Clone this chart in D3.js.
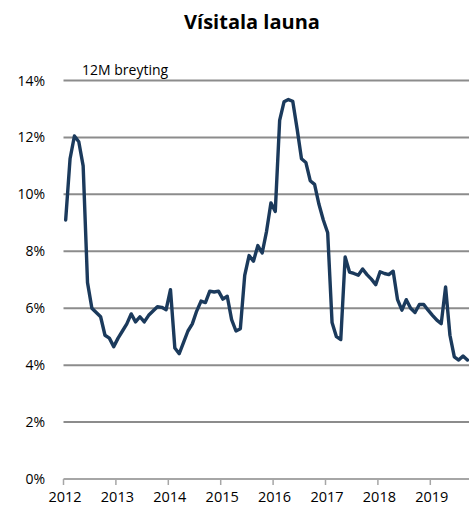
<!DOCTYPE html>
<html>
<head>
<meta charset="utf-8">
<script src="https://cdn.jsdelivr.net/npm/d3@7/dist/d3.min.js"></script>
<style>
html,body{margin:0;padding:0;background:#fff;}
svg{display:block;}
text{font-family:"Open Sans","Noto Sans",sans-serif;fill:#000;}
</style>
</head>
<body>
<svg id="chart" width="469" height="513"></svg>
<script>
const title = "Vísitala launa";
const seriesLabel = "12M breyting";
const years = ["2012","2013","2014","2015","2016","2017","2018","2019"];
const yTicks = [0,2,4,6,8,10,12,14];
// monthly 12-month change (%), Jan 2012 .. Sep 2019
const v2012 = [9.1,11.25,12.05,11.85,11.0,6.9,6.0,5.85,5.7,5.05,4.95,4.65];
const v2013 = [4.95,5.2,5.45,5.8,5.52,5.7,5.52,5.75,5.9,6.05,6.03,5.95];
const v2014 = [6.65,4.6,4.4,4.8,5.2,5.45,5.9,6.25,6.2,6.6,6.57,6.6];
const v2015 = [6.32,6.42,5.6,5.2,5.28,7.15,7.85,7.65,8.2,7.94,8.7,9.7];
const v2016 = [9.4,12.6,13.25,13.33,13.27,12.3,11.25,11.12,10.48,10.35,9.65,9.1];
const v2017 = [8.65,5.5,5.0,4.9,7.8,7.27,7.22,7.16,7.38,7.18,7.02,6.83];
const v2018 = [7.28,7.22,7.18,7.3,6.3,5.93,6.3,6.0,5.85,6.13,6.13,5.93];
const v2019 = [5.75,5.58,5.46,6.75,5.05,4.29,4.18,4.32,4.18];
const values = [].concat(v2012,v2013,v2014,v2015,v2016,v2017,v2018,v2019);

(function(){
const svg = d3.select("#chart");
const mL = 63.5, mR = 469, mT = 80.5, mB = 479;
const nMonths = values.length;

const x = d3.scaleLinear().domain([0, nMonths]).range([mL, mL + nMonths*(52.4/12)]);
const y = d3.scaleLinear().domain([0, 14]).range([mB, mT]);

// gridlines
svg.append("g").selectAll("line").data(yTicks.filter(d=>d>0)).join("line")
  .attr("x1", mL).attr("x2", mR)
  .attr("y1", d=>y(d)).attr("y2", d=>y(d))
  .attr("stroke", "#8c8c8c").attr("stroke-width", 2);

// y labels
svg.append("g").selectAll("text").data(yTicks).join("text")
  .attr("x", 45).attr("y", d=>y(d)).attr("dy","0.36em")
  .attr("text-anchor","end").style("font-size","14px")
  .text(d=>d+"%");

// x axis line
svg.append("line").attr("x1", mL).attr("x2", mR)
  .attr("y1", y(0)).attr("y2", y(0))
  .attr("stroke", "#a6a6a6").attr("stroke-width", 2);

// year ticks
const yearIdx = years.map((d,i)=>i*12);
svg.append("g").selectAll("line").data(yearIdx).join("line")
  .attr("x1", d=>x(d)).attr("x2", d=>x(d))
  .attr("y1", y(0)).attr("y2", y(0)+6)
  .attr("stroke", "#a6a6a6").attr("stroke-width", 1.5);
svg.append("g").selectAll("text").data(years).join("text")
  .attr("x", (d,i)=>x(i*12)+1.5).attr("y", 502)
  .attr("text-anchor","middle").style("font-size","14.5px")
  .text(d=>d);

// line
const line = d3.line().x((d,i)=>x(i+0.5)).y(d=>y(d)).curve(d3.curveLinear);
svg.append("path").datum(values)
  .attr("d", line).attr("fill","none")
  .attr("stroke","#1b3a5c").attr("stroke-width",3.4)
  .attr("stroke-linejoin","round").attr("stroke-linecap","round");

// title & series label
svg.append("text").attr("x", 252).attr("y", 29).attr("text-anchor","middle")
  .style("font-size","20px").style("font-weight","bold").text(title);
svg.append("text").attr("x", 82).attr("y", 75)
  .style("font-size","14px").text(seriesLabel);
})();
</script>
</body>
</html>
